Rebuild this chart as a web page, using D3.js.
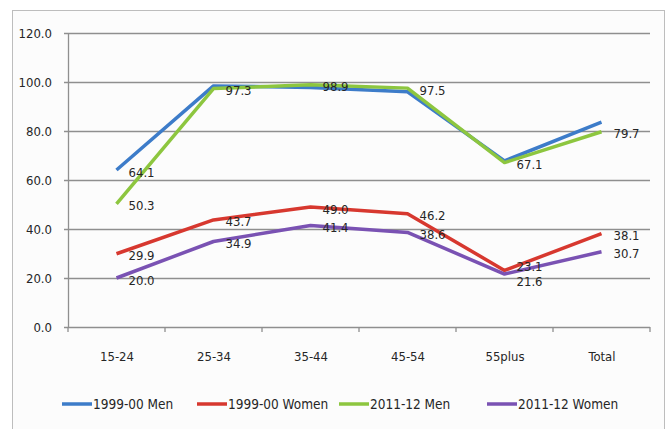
<!DOCTYPE html>
<html>
<head>
<meta charset="utf-8">
<script src="https://cdn.jsdelivr.net/npm/d3@7"></script>
<style>
  body { margin: 0; background: #fff; }
  text { font-family: "Liberation Sans Narrow", "DejaVu Sans Condensed", sans-serif; fill: #262626; }
</style>
</head>
<body>
<div id="chart"></div>
<script>
const categories = ["15-24", "25-34", "35-44", "45-54", "55plus", "Total"];
const seriesNames = ["1999-00 Men", "1999-00 Women", "2011-12 Men", "2011-12 Women"];
const men1999 = [64.1, 98.4, 97.8, 96.0, 67.8, 83.6];
const women1999 = [29.9, 43.7, 49.0, 46.2, 23.1, 38.1];
const men2011 = [50.3, 97.3, 98.9, 97.5, 67.1, 79.7];
const women2011 = [20.0, 34.9, 41.4, 38.6, 21.6, 30.7];
const yTicks = [0, 20, 40, 60, 80, 100, 120];
// which points carry a value label
const menLabelIdx = [0];

const colors = ["#3d7cc9", "#d7382f", "#8dc63f", "#7a52b3"];
const width = 670, height = 429;

const series = [
  { name: seriesNames[0], values: men1999, color: colors[0], labels: menLabelIdx },
  { name: seriesNames[1], values: women1999, color: colors[1], labels: d3.range(6) },
  { name: seriesNames[2], values: men2011, color: colors[2], labels: d3.range(6) },
  { name: seriesNames[3], values: women2011, color: colors[3], labels: d3.range(6) }
];

let svg = d3.select("#chart")
    .append("svg")
    .attr("width", width)
    .attr("height", height);

// outer frame
svg.append("rect")
    .attr("x", 12.5).attr("y", 10.5)
    .attr("width", 652).attr("height", 430)
    .attr("fill", "#fcfcfc")
    .attr("stroke", "#bdbdbd");

let x = d3.scalePoint()
    .domain(categories)
    .range([68, 650])
    .padding(0.5);

let band = d3.scaleBand()
    .domain(categories)
    .range([68, 650]);

let y = d3.scaleLinear()
    .domain([0, 120])
    .range([327, 33]);

// gridlines + y labels
let yAxis = svg.append("g")
    .attr("transform", "translate(68,0)")
    .call(d3.axisLeft(y).tickValues(yTicks).tickFormat(d3.format(".1f"))
        .tickSize(-582).tickPadding(16));
yAxis.select(".domain").remove();
yAxis.selectAll(".tick line").attr("stroke", "#8f8f8f").attr("stroke-width", 1.3).attr("x1", -4);
yAxis.selectAll(".tick text").style("font-size", "13px").attr("fill", "#333");

// y axis line
svg.append("line")
    .attr("x1", 68.5).attr("x2", 68.5)
    .attr("y1", y(120)).attr("y2", y(0))
    .attr("stroke", "#8f8f8f").attr("stroke-width", 1.3);

// x axis labels
let xAxis = svg.append("g")
    .attr("transform", `translate(0, ${y(0)})`)
    .call(d3.axisBottom(x).tickSize(0).tickPadding(25));
xAxis.select(".domain").remove();
xAxis.selectAll(".tick text").style("font-size", "13px").attr("fill", "#333");

// tick marks between categories
svg.append("g").selectAll("line")
    .data(categories.concat(["end"]))
    .enter()
    .append("line")
    .attr("x1", function(d, i) { return 68 + i * band.step(); })
    .attr("x2", function(d, i) { return 68 + i * band.step(); })
    .attr("y1", y(0))
    .attr("y2", y(0) + 5)
    .attr("stroke", "#8f8f8f")
    .attr("stroke-width", 1.3);

let line = d3.line()
    .x(function(d, i) { return x(categories[i]); })
    .y(function(d) { return y(d); });

// lines
svg.append("g").selectAll("path")
    .data(series)
    .enter()
    .append("path")
    .attr("d", function(s) { return line(s.values); })
    .attr("fill", "none")
    .attr("stroke", function(s) { return s.color; })
    .attr("stroke-width", 3.5)
    .attr("stroke-linejoin", "round");

// value labels - build list, then push apart ones that collide in the same column
let labels = [];
series.forEach(function(s) {
    s.labels.forEach(function(i) {
        labels.push({ i: i, v: s.values[i], ly: y(s.values[i]) + 2 });
    });
});
const minGap = 15;
categories.forEach(function(c, ci) {
    let col = labels.filter(function(l) { return l.i === ci; })
        .sort(function(a, b) { return a.ly - b.ly; });
    for (let k = 1; k < col.length; k++) {
        let gap = col[k].ly - col[k - 1].ly;
        if (gap < minGap) {
            let shift = (minGap - gap) / 2;
            col[k - 1].ly -= shift;
            col[k].ly += shift;
        }
    }
});

svg.append("g").selectAll("text")
    .data(labels)
    .enter()
    .append("text")
    .attr("x", function(l) { return x(categories[l.i]) + 12; })
    .attr("y", function(l) { return l.ly; })
    .attr("dy", "0.35em")
    .style("font-size", "13px")
    .text(function(l) { return l.v.toFixed(1); });

// legend
let legendX = [62, 197, 339, 487];
let legend = svg.append("g").selectAll("g")
    .data(series)
    .enter()
    .append("g")
    .attr("transform", function(s, i) { return `translate(${legendX[i]}, 404)`; });

legend.append("line")
    .attr("x1", 0).attr("x2", 30)
    .attr("stroke", function(s) { return s.color; })
    .attr("stroke-width", 3.5);

legend.append("text")
    .attr("x", 31)
    .attr("dy", "0.35em")
    .style("font-size", "13.5px")
    .text(function(s) { return s.name; });
</script>
</body>
</html>
